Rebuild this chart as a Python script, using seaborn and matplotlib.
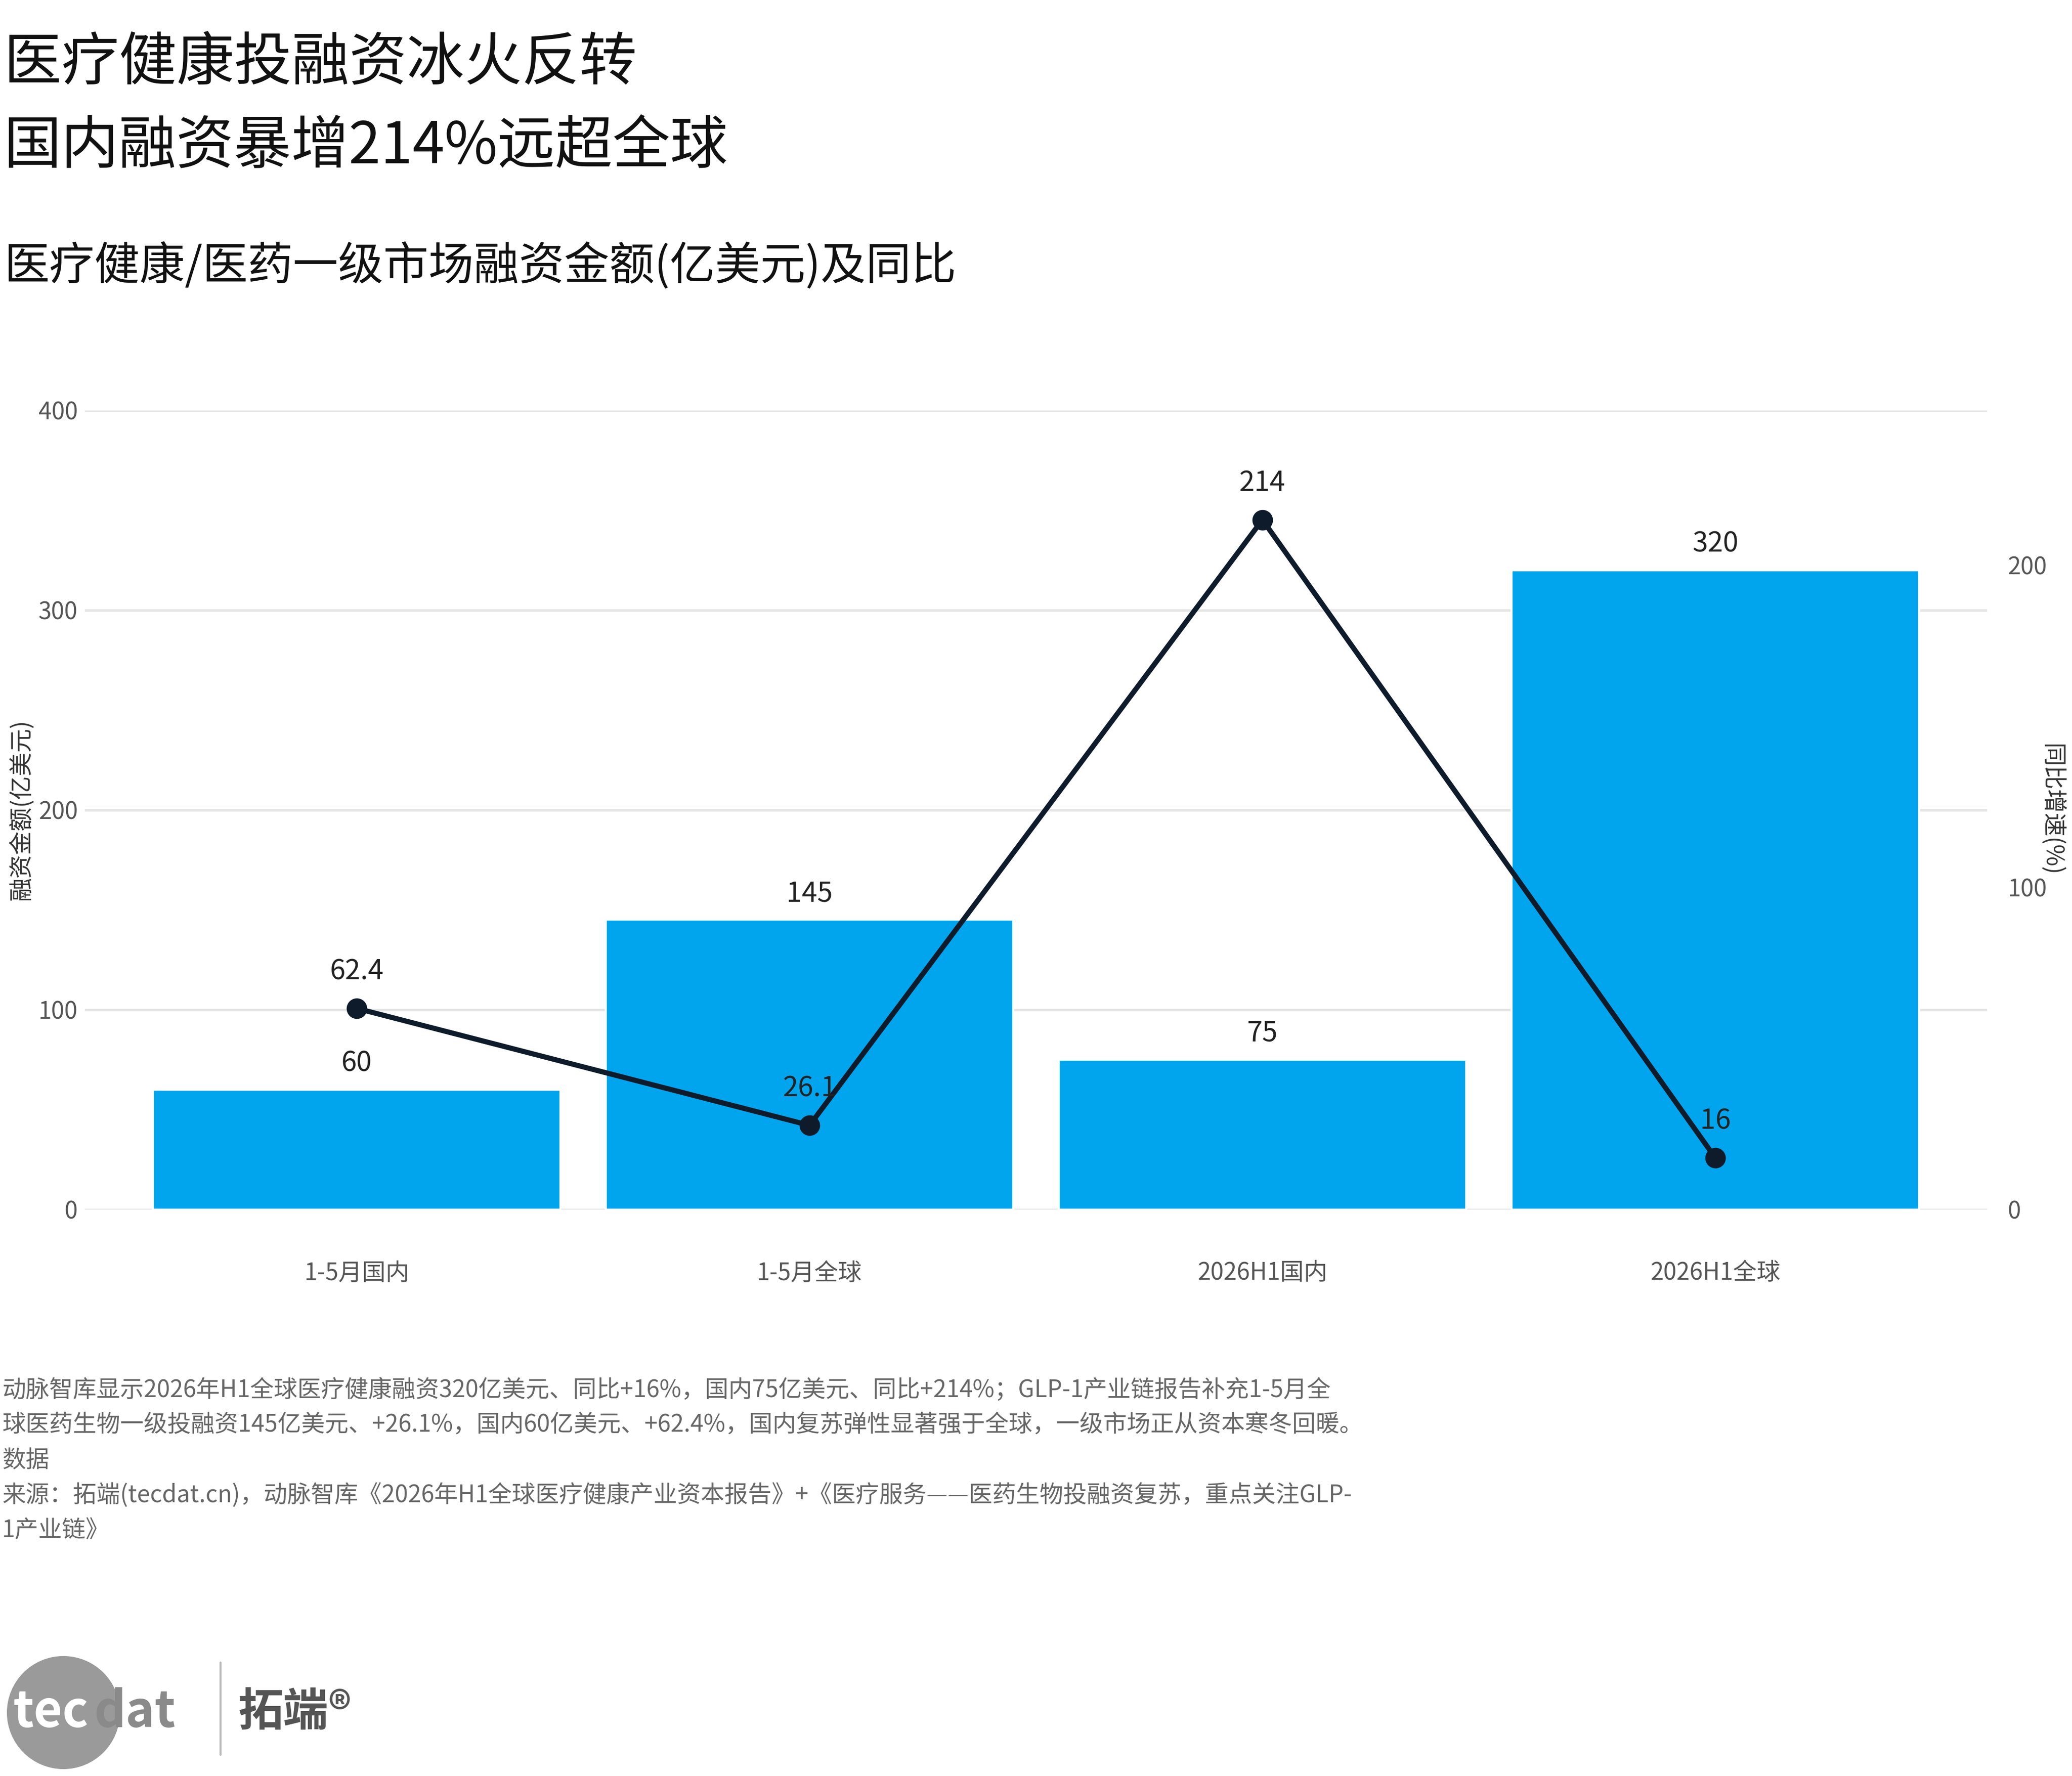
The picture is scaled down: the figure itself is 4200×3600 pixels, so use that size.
import matplotlib
matplotlib.use("Agg")
import matplotlib.pyplot as plt
import seaborn as sns
import pandas as pd
from matplotlib.patches import Ellipse

categories = ["1-5月国内", "1-5月全球", "2026H1国内", "2026H1全球"]
amounts = [60, 145, 75, 320]
growth = [62.4, 26.1, 214, 16]
growth_labels = ["62.4", "26.1", "214", "16"]

sns.set_theme(style="whitegrid")
plt.rcParams['font.family'] = ['Noto Sans CJK SC', 'DejaVu Sans']

df = pd.DataFrame({"cat": categories, "amt": amounts, "g": growth})
fig = plt.figure(figsize=(14, 12), dpi=300)
ax = fig.add_axes([0.041, 0.319, 0.918, 0.45])
sns.barplot(data=df, x="cat", y="amt", color="#00A5EE", saturation=1, width=0.9, ax=ax)
ax.set_ylim(0, 400)
ax.set_yticks([0, 100, 200, 300, 400])
ax.grid(axis="y", color="#E5E5E5", lw=1.2)
ax.grid(axis="x", visible=False)
for s in ax.spines.values():
    s.set_visible(False)
ax.tick_params(axis="both", colors="#555555", labelsize=11.5, length=0)
ax.tick_params(axis="x", pad=25)
ax.set_xlabel("")
ax.set_ylabel("融资金额(亿美元)", fontsize=11.5, color="#333333", labelpad=2)
for i, v in enumerate(amounts):
    ax.text(i, v + 6, str(v), ha="center", va="bottom", fontsize=13.5, color="#222222")

ax2 = ax.twinx()
sns.lineplot(x=list(range(4)), y=growth, ax=ax2, color="#0D1B2A", lw=2.5,
             marker="o", markersize=10, markeredgewidth=0)
ax2.set_ylim(0, 248)
ax2.set_yticks([0, 100, 200])
ax2.grid(False)
for s in ax2.spines.values():
    s.set_visible(False)
ax2.tick_params(axis="y", colors="#555555", labelsize=11.5, length=0, pad=10)
ax2.set_ylabel("同比增速(%)", fontsize=11.5, color="#333333", rotation=270, labelpad=8)
for i, (v, t) in enumerate(zip(growth, growth_labels)):
    ax2.text(i, v + 7, t, ha="center", va="bottom", fontsize=13.5, color="#222222")
ax.set_xlim(-0.6, 3.6)

fig.text(0.002, 0.964, "医疗健康投融资冰火反转", fontsize=28, va="center", color="#111111")
fig.text(0.002, 0.917, "国内融资暴增214%远超全球", fontsize=28, va="center", color="#111111")
fig.text(0.002, 0.850, "医疗健康/医药一级市场融资金额(亿美元)及同比", fontsize=22, va="center", color="#111111")

foot = ("动脉智库显示2026年H1全球医疗健康融资320亿美元、同比+16%，国内75亿美元、同比+214%；GLP-1产业链报告补充1-5月全\n"
        "球医药生物一级投融资145亿美元、+26.1%，国内60亿美元、+62.4%，国内复苏弹性显著强于全球，一级市场正从资本寒冬回暖。\n"
        "数据\n"
        "来源：拓端(tecdat.cn)，动脉智库《2026年H1全球医疗健康产业资本报告》+《医疗服务——医药生物投融资复苏，重点关注GLP-\n"
        "1产业链》")
fig.text(0.001, 0.224, foot, fontsize=11.5, va="top", color="#666666", linespacing=1.55)

fig.patches.append(Ellipse((48/1568, 1-1296/1344), 84/1568, 84/1344, transform=fig.transFigure,
                           color="#9A9A9A", zorder=1))
fig.text(10/1568, 1-1296/1344, "tec", fontsize=24, color="white", va="center", weight="bold", zorder=3)
fig.text(71/1568, 1-1296/1344, "dat", fontsize=24, color="#8A8A8A", va="center", weight="bold", zorder=3)
fig.lines.append(plt.Line2D([167/1568, 167/1568], [1-1258/1344, 1-1328/1344], transform=fig.transFigure,
                            color="#BBBBBB", lw=1))
fig.text(180/1568, 1-1296/1344, "拓端®", fontsize=22, color="#555555", va="center", weight="bold")

fig.savefig("out.png", dpi=300)
